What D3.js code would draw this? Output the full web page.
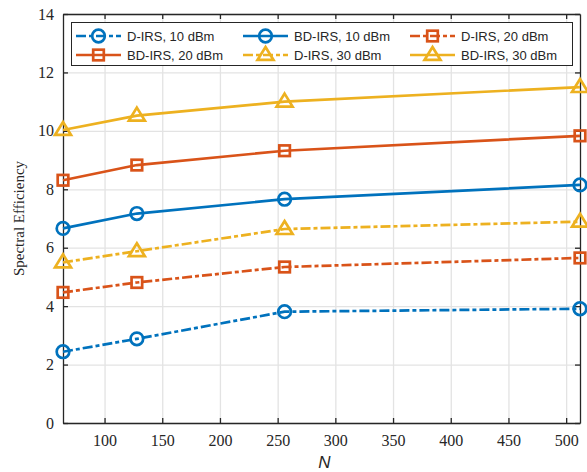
<!DOCTYPE html>
<html>
<head>
<meta charset="utf-8">
<script src="https://cdn.jsdelivr.net/npm/d3@7"></script>
<style>
  body { margin: 0; background: #fff; }
  svg text { fill: #262626; }
</style>
</head>
<body>
<div id="chart"></div>
<script>
const WIDTH = 587;
const HEIGHT = 472;

const OFFSET_LEFT = 63;
const OFFSET_RIGHT = 7;
const OFFSET_TOP = 14;
const OFFSET_BOTTOM = 49;

// data
const nValues = [64, 128, 256, 512];
const dIrs10 = [2.44, 2.88, 3.81, 3.91];
const bdIrs10 = [6.66, 7.17, 7.66, 8.15];
const dIrs20 = [4.47, 4.81, 5.34, 5.65];
const bdIrs20 = [8.31, 8.83, 9.32, 9.83];
const dIrs30 = [5.50, 5.88, 6.64, 6.89];
const bdIrs30 = [10.03, 10.52, 11.0, 11.5];

const xTicks = [100, 150, 200, 250, 300, 350, 400, 450, 500];
const yTicks = [0, 2, 4, 6, 8, 10, 12, 14];

const BLUE = "#0072BD", ORANGE = "#D95319", YELLOW = "#EDB120";
const DASHDOT = "10,3,4,3";
const LW = 2.7;

const series = [
  { name: "D-IRS, 10 dBm", values: dIrs10, color: BLUE, dash: DASHDOT, marker: "circle" },
  { name: "BD-IRS, 10 dBm", values: bdIrs10, color: BLUE, dash: null, marker: "circle" },
  { name: "D-IRS, 20 dBm", values: dIrs20, color: ORANGE, dash: DASHDOT, marker: "square" },
  { name: "BD-IRS, 20 dBm", values: bdIrs20, color: ORANGE, dash: null, marker: "square" },
  { name: "D-IRS, 30 dBm", values: dIrs30, color: YELLOW, dash: DASHDOT, marker: "triangle" },
  { name: "BD-IRS, 30 dBm", values: bdIrs30, color: YELLOW, dash: null, marker: "triangle" }
];

const svg = d3.select("#chart").append("svg")
  .attr("width", WIDTH)
  .attr("height", HEIGHT);

const x = d3.scaleLinear().domain([64, 512]).range([OFFSET_LEFT, WIDTH - OFFSET_RIGHT]);
const y = d3.scaleLinear().domain([0, 14]).range([HEIGHT - OFFSET_BOTTOM, OFFSET_TOP]);

const plotW = WIDTH - OFFSET_LEFT - OFFSET_RIGHT;
const plotH = HEIGHT - OFFSET_TOP - OFFSET_BOTTOM;

// grid lines
svg.append("g")
  .attr("transform", "translate(0," + (HEIGHT - OFFSET_BOTTOM) + ")")
  .call(d3.axisBottom(x).tickValues(xTicks).tickSize(-plotH).tickFormat(""))
  .call(g => g.select(".domain").remove())
  .call(g => g.selectAll("line").attr("stroke", "#e3e3e3").attr("stroke-width", 1.3));

svg.append("g")
  .attr("transform", "translate(" + OFFSET_LEFT + ",0)")
  .call(d3.axisLeft(y).tickValues(yTicks).tickSize(-plotW).tickFormat(""))
  .call(g => g.select(".domain").remove())
  .call(g => g.selectAll("line").attr("stroke", "#e3e3e3").attr("stroke-width", 1.3));

// axes (box style, ticks inward)
function styleAxis(g) {
  g.select(".domain").attr("stroke", "#262626").attr("stroke-width", 1.3);
  g.selectAll(".tick line").attr("stroke", "#262626").attr("stroke-width", 1.3);
  g.selectAll("text")
    .style("font-family", "'Liberation Serif', 'DejaVu Serif', serif")
    .style("font-size", "16px")
    .attr("fill", "#262626");
}

svg.append("g")
  .attr("transform", "translate(0," + (HEIGHT - OFFSET_BOTTOM) + ")")
  .call(d3.axisBottom(x).tickValues(xTicks).tickSizeInner(-5).tickSizeOuter(0).tickPadding(12))
  .call(styleAxis);

svg.append("g")
  .attr("transform", "translate(0," + OFFSET_TOP + ")")
  .call(d3.axisTop(x).tickValues(xTicks).tickSizeInner(-5).tickSizeOuter(0).tickFormat(""))
  .call(styleAxis);

svg.append("g")
  .attr("transform", "translate(" + OFFSET_LEFT + ",0)")
  .call(d3.axisLeft(y).tickValues(yTicks).tickSizeInner(-5).tickSizeOuter(0).tickPadding(9))
  .call(styleAxis);

svg.append("g")
  .attr("transform", "translate(" + (WIDTH - OFFSET_RIGHT) + ",0)")
  .call(d3.axisRight(y).tickValues(yTicks).tickSizeInner(-5).tickSizeOuter(0).tickFormat(""))
  .call(styleAxis);

// axis labels
svg.append("text")
  .attr("x", OFFSET_LEFT + plotW / 2 + 3)
  .attr("y", 468)
  .attr("text-anchor", "middle")
  .style("font-family", "'Liberation Sans', Arial, sans-serif")
  .style("font-style", "italic")
  .style("font-size", "17px")
  .text("N");

svg.append("text")
  .attr("transform", "translate(24," + (OFFSET_TOP + plotH / 2) + ") rotate(-90)")
  .attr("text-anchor", "middle")
  .style("font-family", "'Liberation Serif', 'DejaVu Serif', serif")
  .style("font-size", "15px")
  .text("Spectral Efficiency");

// markers
function drawMarker(g, type, cx, cy, color) {
  if (type === "circle") {
    g.append("circle").attr("cx", cx).attr("cy", cy).attr("r", 6.3)
      .attr("fill", "none").attr("stroke", color).attr("stroke-width", LW);
  } else if (type === "square") {
    g.append("rect").attr("x", cx - 5.3).attr("y", cy - 5.3).attr("width", 10.6).attr("height", 10.6)
      .attr("fill", "none").attr("stroke", color).attr("stroke-width", LW);
  } else {
    const s = 8;
    g.append("path")
      .attr("d", "M" + cx + "," + (cy - s) + "L" + (cx + s) + "," + (cy + s * 0.62) + "L" + (cx - s) + "," + (cy + s * 0.62) + "Z")
      .attr("fill", "none").attr("stroke", color).attr("stroke-width", LW);
  }
}

const line = d3.line().x((d, i) => x(nValues[i])).y(d => y(d));

series.forEach(s => {
  const g = svg.append("g");
  g.append("path")
    .attr("d", line(s.values))
    .attr("fill", "none")
    .attr("stroke", s.color)
    .attr("stroke-width", LW)
    .attr("stroke-dasharray", s.dash);
  s.values.forEach((v, i) => drawMarker(g, s.marker, x(nValues[i]), y(v), s.color));
});

// legend
const legend = svg.append("g");
legend.append("rect")
  .attr("x", 71.5).attr("y", 22.5)
  .attr("width", 501).attr("height", 43)
  .attr("fill", "#fff")
  .attr("stroke", "#262626")
  .attr("stroke-width", 1);

const colX = [76, 243, 410];
const rowY = [36, 55];
series.forEach((s, i) => {
  const lx = colX[i % 3];
  const ly = rowY[Math.floor(i / 3)];
  legend.append("line")
    .attr("x1", lx).attr("x2", lx + 45)
    .attr("y1", ly).attr("y2", ly)
    .attr("stroke", s.color).attr("stroke-width", LW)
    .attr("stroke-dasharray", s.dash);
  drawMarker(legend, s.marker, lx + 22.5, ly, s.color);
  legend.append("text")
    .attr("x", lx + 51).attr("y", ly + 4.5)
    .style("font-family", "'Liberation Sans', Arial, sans-serif")
    .style("font-size", "13px")
    .text(s.name);
});
</script>
</body>
</html>
